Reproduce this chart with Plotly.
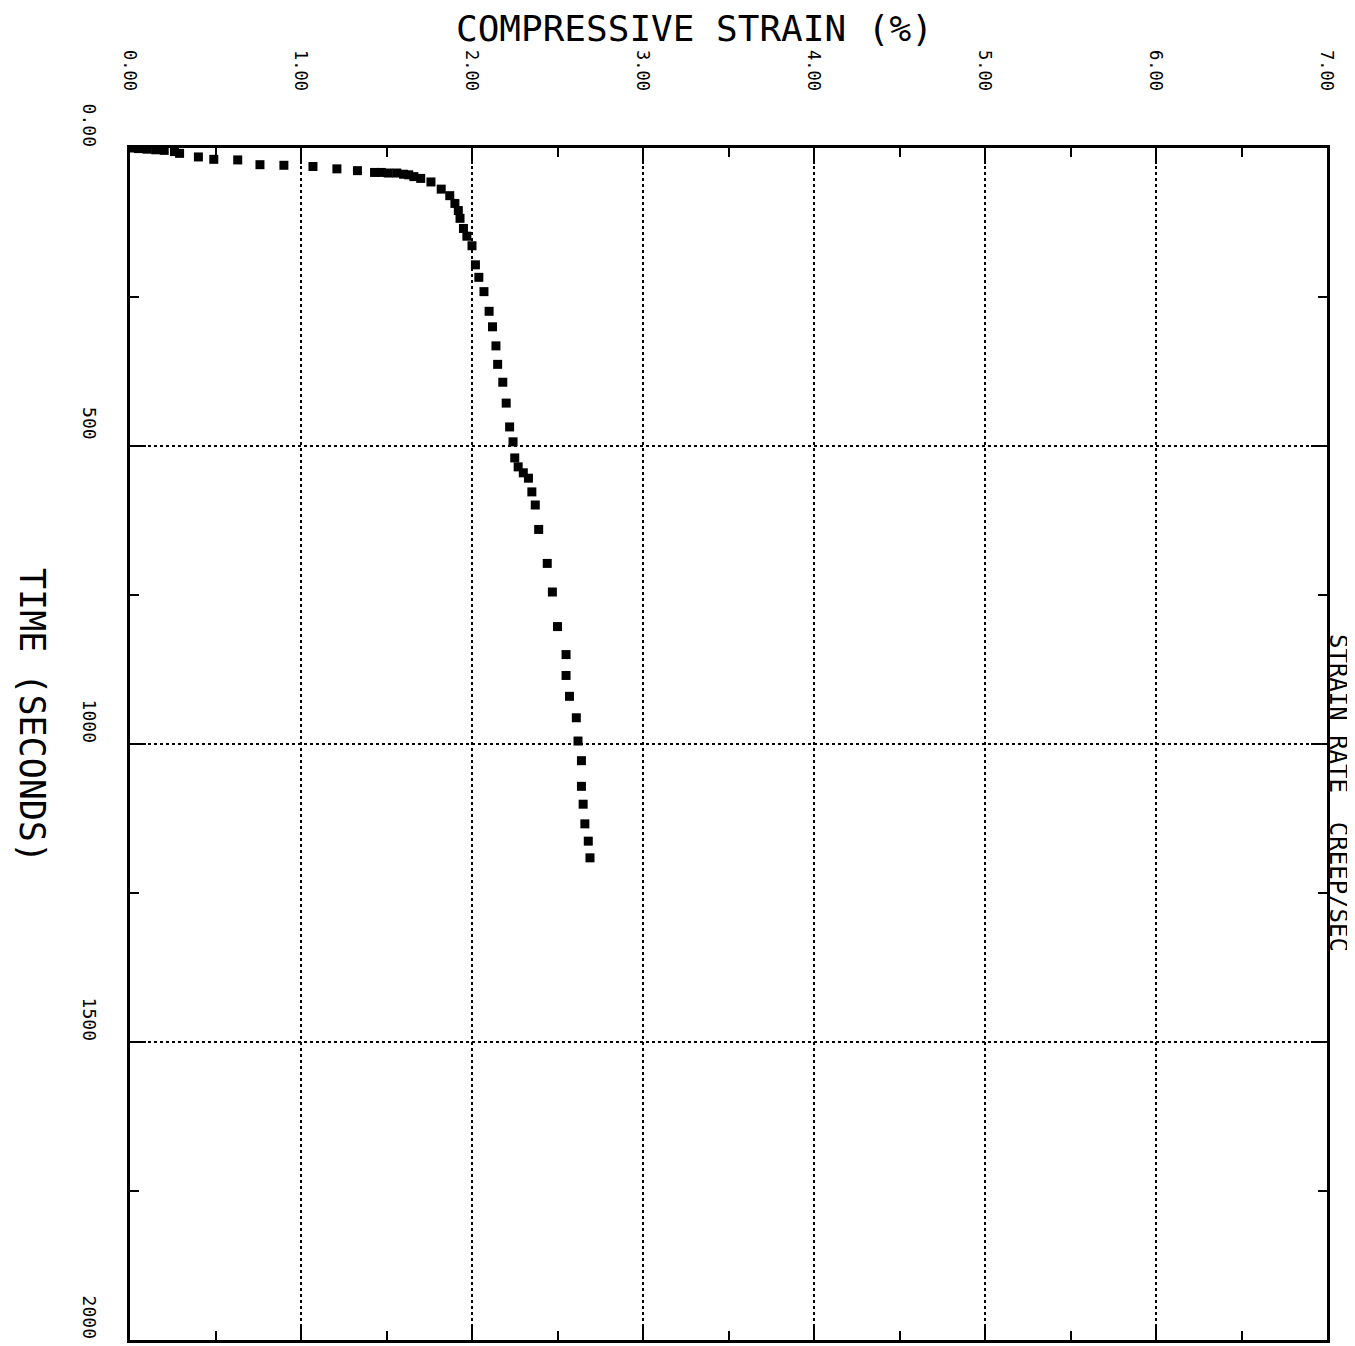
import plotly.graph_objects as go

# strain (%) vs time (s)
strain = [0.00, 0.05, 0.10, 0.15, 0.20, 0.26, 0.29, 0.40, 0.49, 0.63, 0.76, 0.90,
          1.07, 1.21, 1.33, 1.43, 1.47, 1.51, 1.56, 1.60, 1.63, 1.66, 1.70, 1.76,
          1.82, 1.87, 1.90, 1.92, 1.93, 1.95, 1.97, 2.00, 2.02, 2.04, 2.07, 2.10,
          2.12, 2.14, 2.15, 2.18, 2.20, 2.22, 2.24, 2.25, 2.27, 2.30, 2.33, 2.35,
          2.37, 2.39, 2.44, 2.47, 2.50, 2.55, 2.55, 2.57, 2.61, 2.62, 2.64, 2.64,
          2.65, 2.66, 2.68, 2.69]
time_s = [0, 1, 2, 3, 4, 6, 9, 15, 19, 20, 28, 29,
          31, 35, 38, 41, 41, 42, 42, 44, 45, 48, 51, 57,
          69, 80, 93, 105, 118, 135, 148, 164, 196, 217, 241, 274,
          300, 332, 363, 393, 428, 468, 493, 520, 535, 545, 554, 577,
          599, 640, 697, 745, 803, 850, 885, 920, 956, 995, 1028, 1071,
          1101, 1134, 1163, 1191]

x_ticks = [0, 1, 2, 3, 4, 5, 6, 7]
x_ticktext = ["0.00", "1.00", "2.00", "3.00", "4.00", "5.00", "6.00", "7.00"]
y_ticks = [0, 500, 1000, 1500, 2000]
y_ticktext = ["0.00", "500", "1000", "1500", "2000"]

W, H = 1355, 1346
L, R, T, B = 122, 36, 140, 14

fig = go.Figure()
fig.add_trace(go.Scatter(
    x=strain, y=time_s, mode="markers",
    marker=dict(symbol="square", size=9, color="black"),
    showlegend=False,
))

mono = "DejaVu Sans Mono"
fig.update_xaxes(
    range=[0, 7], side="top", tickvals=x_ticks, ticktext=x_ticktext,
    tickangle=90, tickfont=dict(family=mono, size=17, color="black"),
    ticks="inside", ticklen=16, tickwidth=2, tickcolor="black",
    minor=dict(dtick=0.5, ticks="inside", ticklen=9, tickwidth=2, tickcolor="black", showgrid=False),
    showgrid=True, gridcolor="black", griddash="dot", gridwidth=1.5,
    showline=True, linecolor="black", linewidth=3, mirror="ticks",
    zeroline=False, ticklabelstandoff=48, ticklabeloverflow="allow",
    automargin=False,
)
fig.update_yaxes(
    range=[2000, 0], tickvals=y_ticks, ticktext=y_ticktext,
    tickangle=90, tickfont=dict(family=mono, size=18, color="black"),
    ticks="inside", ticklen=16, tickwidth=2, tickcolor="black",
    minor=dict(dtick=250, ticks="inside", ticklen=9, tickwidth=2, tickcolor="black", showgrid=False),
    showgrid=True, gridcolor="black", griddash="dot", gridwidth=1.5,
    showline=True, linecolor="black", linewidth=3, mirror="ticks",
    zeroline=False, ticklabelstandoff=22, ticklabeloverflow="allow",
    ticklabelshift=20, automargin=False,
)


def px_x(p):
    return (p - L) / (W - L - R)


def px_y(p):
    return (H - B - p) / (H - T - B)


fig.add_annotation(text="COMPRESSIVE STRAIN (%)", x=px_x(686), y=px_y(21),
                   xref="paper", yref="paper", showarrow=False,
                   xanchor="center", yanchor="middle",
                   font=dict(family=mono, size=36, color="black"))
fig.add_annotation(text="TIME (SECONDS)", x=px_x(24), y=px_y(707),
                   xref="paper", yref="paper", showarrow=False, textangle=90,
                   xanchor="center", yanchor="middle",
                   font=dict(family=mono, size=35, color="black"))
fig.add_annotation(text="STRAIN RATE  CREEP/SEC", x=px_x(1330), y=px_y(785),
                   xref="paper", yref="paper", showarrow=False, textangle=90,
                   xanchor="center", yanchor="middle",
                   font=dict(family=mono, size=24, color="black"))

fig.update_layout(
    width=W, height=H,
    margin=dict(l=L, r=R, t=T, b=B),
    plot_bgcolor="white", paper_bgcolor="white",
)

fig.write_html("out.html")
